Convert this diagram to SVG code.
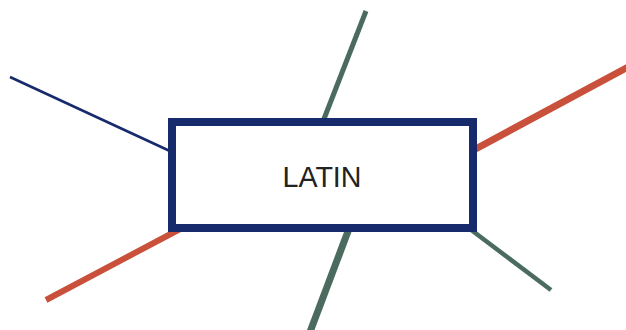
<svg xmlns="http://www.w3.org/2000/svg" width="626" height="330" viewBox="0 0 626 330">
<style>
.c{fill:none;stroke-linecap:butt}
.navy{stroke:#172a6b}
.green{stroke:#4b6b5f}
.orange{stroke:#c9503a}
.box{fill:#ffffff;stroke:#172a6b;stroke-width:8}
.lbl{font-family:"Liberation Sans",Arial,sans-serif;font-size:30px;fill:#222222;text-anchor:middle}
</style>
<rect width="626" height="330" fill="#ffffff"/>
<g id="connectors">
<line class="c navy" x1="10" y1="77" x2="172" y2="152" stroke-width="2.5"/>
<line class="c green" x1="366" y1="11" x2="322" y2="124" stroke-width="5"/>
<line class="c orange" x1="630" y1="66" x2="470" y2="152" stroke-width="7"/>
<line class="c orange" x1="46" y1="300" x2="182" y2="228" stroke-width="6"/>
<line class="c green" x1="350" y1="226" x2="310" y2="332" stroke-width="7"/>
<line class="c green" x1="466" y1="226" x2="551" y2="290" stroke-width="4.5"/>
</g>
<g id="latin">
<rect class="box" x="172" y="122" width="301" height="106"/>
<text class="lbl" x="322" y="187" textLength="79" lengthAdjust="spacingAndGlyphs">LATIN</text>
</g>
</svg>
